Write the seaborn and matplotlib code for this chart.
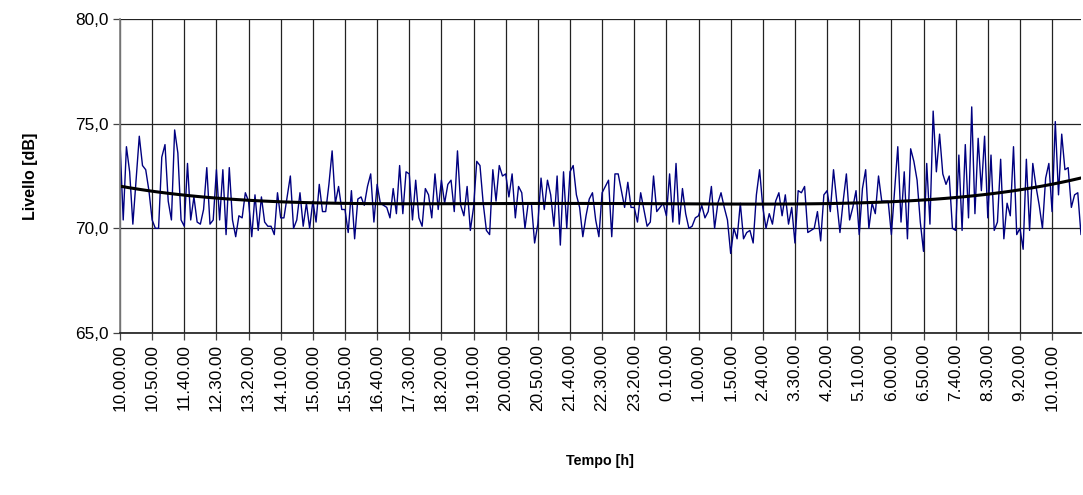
import numpy as np
import pandas as pd
import matplotlib
matplotlib.use("Agg")
import matplotlib.pyplot as plt
import seaborn as sns

# ---- data (5-minute samples, 10.00.00 -> 10.55.00 next day) ----
seg1 = [74.1, 70.4, 73.9, 72.7, 70.2, 72.3, 74.4, 73.0, 72.8, 71.8, 70.4, 70.0, 70.0, 73.4, 74.0,
        71.3, 70.4, 74.7, 73.6, 70.4, 70.1, 73.1, 70.4, 71.5, 70.3, 70.2, 70.9, 72.9, 70.2, 70.4,
        72.8, 70.4, 72.8, 69.7, 72.9, 70.4, 69.6, 70.6, 70.5, 71.7, 71.3, 69.6, 71.6, 69.9, 71.5,
        70.3, 70.1, 70.1, 69.7, 71.7, 70.5, 70.5, 71.5, 72.5, 70.0, 70.4, 71.7, 70.1, 71.2, 70.0]
seg2 = [71.3, 70.3, 72.1, 70.8, 70.8, 72.1, 73.7, 71.2, 72.0, 70.9, 70.9, 69.8, 71.8, 69.5, 71.4,
        71.5, 71.1, 72.0, 72.6, 70.3, 72.1, 71.2, 71.1, 71.0, 70.5, 71.9, 70.7, 73.0, 70.7, 72.7,
        72.6, 70.4, 72.3, 70.5, 70.1, 71.9, 71.6, 70.5, 72.6, 70.9, 72.3, 71.2, 72.1, 72.3, 70.8,
        73.7, 71.1, 70.6, 72.0, 69.9, 71.0, 73.2, 73.0, 71.2, 69.9, 69.7, 72.8, 71.3, 73.0, 72.5]
seg3 = [72.6, 71.5, 72.6, 70.5, 72.0, 71.7, 70.0, 71.2, 71.2, 69.3, 70.2, 72.4, 70.9, 72.3, 71.6,
        70.1, 72.5, 69.2, 72.7, 70.0, 72.7, 73.0, 71.6, 71.0, 69.6, 70.6, 71.4, 71.7, 70.4, 69.6,
        71.7, 72.0, 72.3, 69.6, 72.6, 72.6, 71.8, 71.0, 72.2, 71.0, 71.0, 70.3, 71.7, 70.9, 70.1,
        70.3, 72.5, 70.8, 71.0, 71.2, 70.6, 72.6, 70.3, 73.1, 70.2, 71.9, 70.7, 70.0, 70.1, 70.5]
seg4 = [70.6, 71.1, 70.5, 70.8, 72.0, 70.0, 71.2, 71.7, 71.0, 70.4, 68.8, 70.0, 69.5, 71.2, 69.5,
        69.8, 69.9, 69.3, 71.6, 72.8, 71.0, 70.0, 70.7, 70.2, 71.3, 71.7, 70.6, 71.6, 70.2, 71.0,
        69.3, 71.8, 71.7, 72.0, 69.8, 69.9, 70.0, 70.8, 69.4, 71.6, 71.8, 70.8, 72.8, 71.3, 69.8,
        71.3, 72.6, 70.4, 71.0, 71.8, 69.7, 71.9, 72.8, 70.0, 71.2, 70.7, 72.5, 71.3, 71.3, 71.3]
seg5 = [69.7, 71.8, 73.9, 70.3, 72.7, 69.5, 73.8, 73.2, 72.3, 70.3, 68.9, 73.1, 70.2, 75.6, 72.7,
        74.5, 72.6, 72.1, 72.5, 70.0, 69.9, 73.5, 69.9, 74.0, 70.5, 75.8, 70.7, 74.3, 71.8, 74.4,
        70.5, 73.5, 69.9, 70.3, 73.3, 69.5, 71.2, 70.6, 73.9, 69.7, 70.0, 69.0, 73.3, 69.9, 73.1,
        72.0, 71.1, 70.0, 72.4, 73.1, 70.8, 75.1, 71.6, 74.5, 72.8, 72.9, 71.0, 71.6, 71.7, 69.7]

livello = seg1 + seg2 + seg3 + seg4 + seg5

tick_labels = ["10.00.00", "10.50.00", "11.40.00", "12.30.00", "13.20.00", "14.10.00",
               "15.00.00", "15.50.00", "16.40.00", "17.30.00", "18.20.00", "19.10.00",
               "20.00.00", "20.50.00", "21.40.00", "22.30.00", "23.20.00", "0.10.00",
               "1.00.00", "1.50.00", "2.40.00", "3.30.00", "4.20.00", "5.10.00",
               "6.00.00", "6.50.00", "7.40.00", "8.30.00", "9.20.00", "10.10.00"]
y_ticks = [65, 70, 75, 80]

df = pd.DataFrame({"idx": np.arange(len(livello)), "livello": livello})

sns.set_theme(style="white")
plt.rcParams["font.family"] = ["Liberation Sans", "DejaVu Sans"]

W, H = 1083, 495
fig = plt.figure(figsize=(W / 100, H / 100), dpi=100)
ax = fig.add_axes([120 / W, 1 - 333 / H, (1081 - 120) / W, (333 - 19) / H])

ax.set_axisbelow(True)
sns.lineplot(data=df, x="idx", y="livello", ax=ax, color="#000080", lw=1.0)
sns.regplot(data=df, x="idx", y="livello", ax=ax, order=4, scatter=False, ci=None,
            truncate=True, line_kws=dict(color="black", lw=2.2))

ax.set_xlim(0, len(livello) - 1)
ax.set_ylim(65, 80)
ax.set_xticks(np.arange(0, len(livello), 10)[:len(tick_labels)])
ax.set_xticklabels(tick_labels, rotation=90, fontsize=12.4, color="black")
ax.set_yticks(y_ticks)
ax.set_yticklabels([f"{v:.1f}".replace(".", ",") for v in y_ticks], fontsize=12.4,
                   color="black")

ax.grid(True, color="#222222", lw=0.9)
ax.tick_params(axis="both", direction="out", length=5, width=0.9, color="#444444",
               bottom=True, left=True, pad=3, labelcolor="black")
for s in ["top", "right"]:
    ax.spines[s].set_visible(False)
ax.spines["left"].set_color("#808080")
ax.spines["bottom"].set_color("#222222")

ax.set_xlabel("")
ax.set_ylabel("")
fig.text(600 / W, 1 - 461 / H, "Tempo [h]", ha="center", va="center",
         fontsize=10.3, fontweight="bold", color="black")
fig.text(30 / W, 1 - 176 / H, "Livello [dB]", ha="center", va="center",
         rotation=90, fontsize=11.5, fontweight="bold", color="black")

fig.savefig("out.png", dpi=100)
